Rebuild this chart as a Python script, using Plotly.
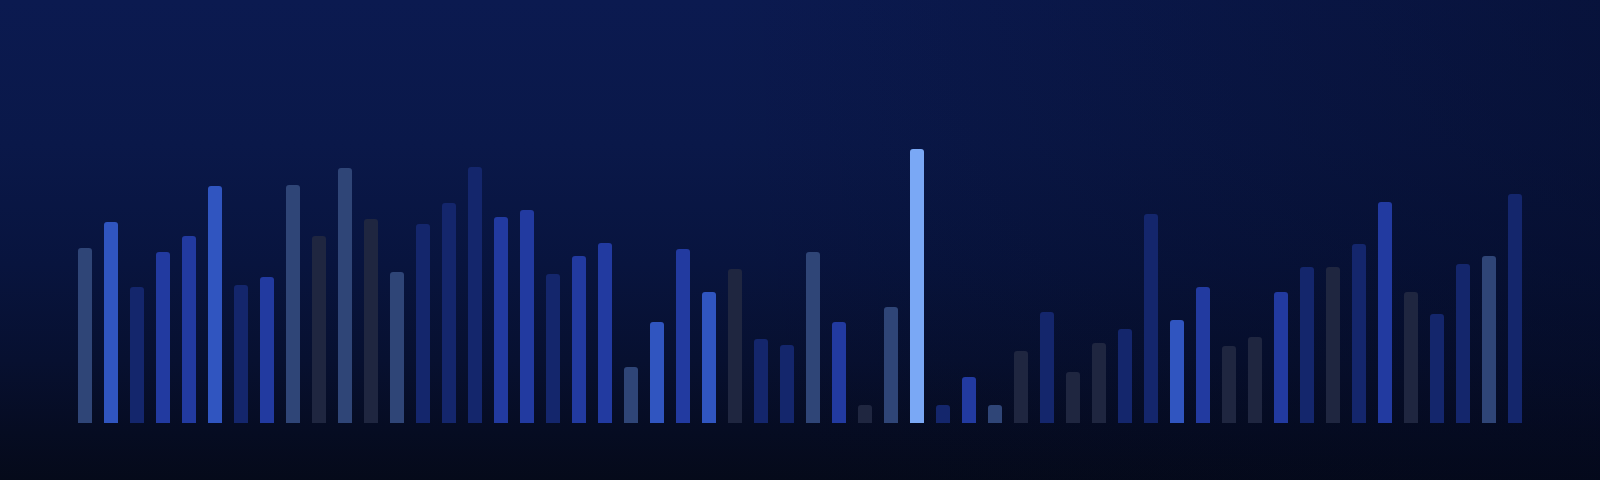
import plotly.graph_objects as go

# ---- data (bar heights, baseline = 0) ----
values = [175, 201, 136, 171, 187, 237, 138, 146, 238, 187,
          255, 204, 151, 199, 220, 256, 206, 213, 149, 167,
          180, 56, 101, 174, 131, 154, 84, 78, 171, 101,
          18, 116, 274, 18, 46, 18, 72, 111, 51, 80,
          94, 209, 103, 136, 77, 86, 131, 156, 156, 179,
          221, 131, 109, 159, 167, 229]
categories = list(range(len(values)))
# tone of each bar
tones = ["G", "B", "N", "M", "M", "B", "N", "M", "G", "D",
         "G", "D", "G", "N", "N", "N", "M", "M", "N", "M",
         "M", "G", "B", "M", "B", "D", "N", "N", "G", "M",
         "D", "G", "L", "N", "M", "G", "D", "N", "D", "D",
         "N", "N", "B", "M", "D", "D", "M", "N", "D", "N",
         "M", "D", "N", "N", "G", "N"]
palette = {
    "G": "#2f4577",
    "B": "#3055c0",
    "M": "#223aa0",
    "N": "#14266c",
    "D": "#1f2640",
    "L": "#7aa8f5",
}

W, H = 1600, 480
step = 26.0
first_px = 85.0
x0 = -first_px / step
x1 = x0 + W / step
y_top = 423
y_bot = y_top - H

fig = go.Figure()

# background vertical gradient (on base axes, drawn below the overlay)
fig.add_trace(go.Scatter(
    x=[0, 1, 1, 0, 0], y=[0, 0, 1, 1, 0],
    xaxis="x", yaxis="y",
    mode="none", fill="toself", hoverinfo="skip", showlegend=False,
    fillgradient=dict(
        type="vertical",
        colorscale=[
            [0.0, "#050a1a"],
            [0.1, "#060c22"],
            [0.25, "#071030"],
            [0.45, "#08143e"],
            [0.7, "#0a1849"],
            [1.0, "#0b1a50"],
        ],
    ),
))
# right-side darkening overlay
fig.add_trace(go.Scatter(
    x=[0, 1, 1, 0, 0], y=[0, 0, 1, 1, 0],
    xaxis="x", yaxis="y",
    mode="none", fill="toself", hoverinfo="skip", showlegend=False,
    fillgradient=dict(
        type="horizontal",
        colorscale=[
            [0.0, "rgba(3,8,30,0)"],
            [0.45, "rgba(3,8,30,0.0)"],
            [1.0, "rgba(3,8,30,0.4)"],
        ],
    ),
))

fig.add_trace(go.Bar(
    x=categories, y=values,
    xaxis="x2", yaxis="y2",
    marker=dict(color=[palette[t] for t in tones], line=dict(width=0),
                cornerradius=3),
    hoverinfo="skip", showlegend=False,
))

fig.update_layout(
    width=W, height=H,
    margin=dict(l=0, r=0, t=0, b=0),
    paper_bgcolor="#050a1c",
    plot_bgcolor="rgba(0,0,0,0)",
    bargap=1 - 14 / step,
    xaxis=dict(range=[0, 1], visible=False, fixedrange=True),
    yaxis=dict(range=[0, 1], visible=False, fixedrange=True),
    xaxis2=dict(range=[x0, x1], visible=False, fixedrange=True,
                overlaying="x"),
    yaxis2=dict(range=[y_bot, y_top], visible=False, fixedrange=True,
                overlaying="y"),
)

fig.write_html("out.html",
               config={"displayModeBar": False, "staticPlot": True},
               post_script="document.body.style.margin='0';")
